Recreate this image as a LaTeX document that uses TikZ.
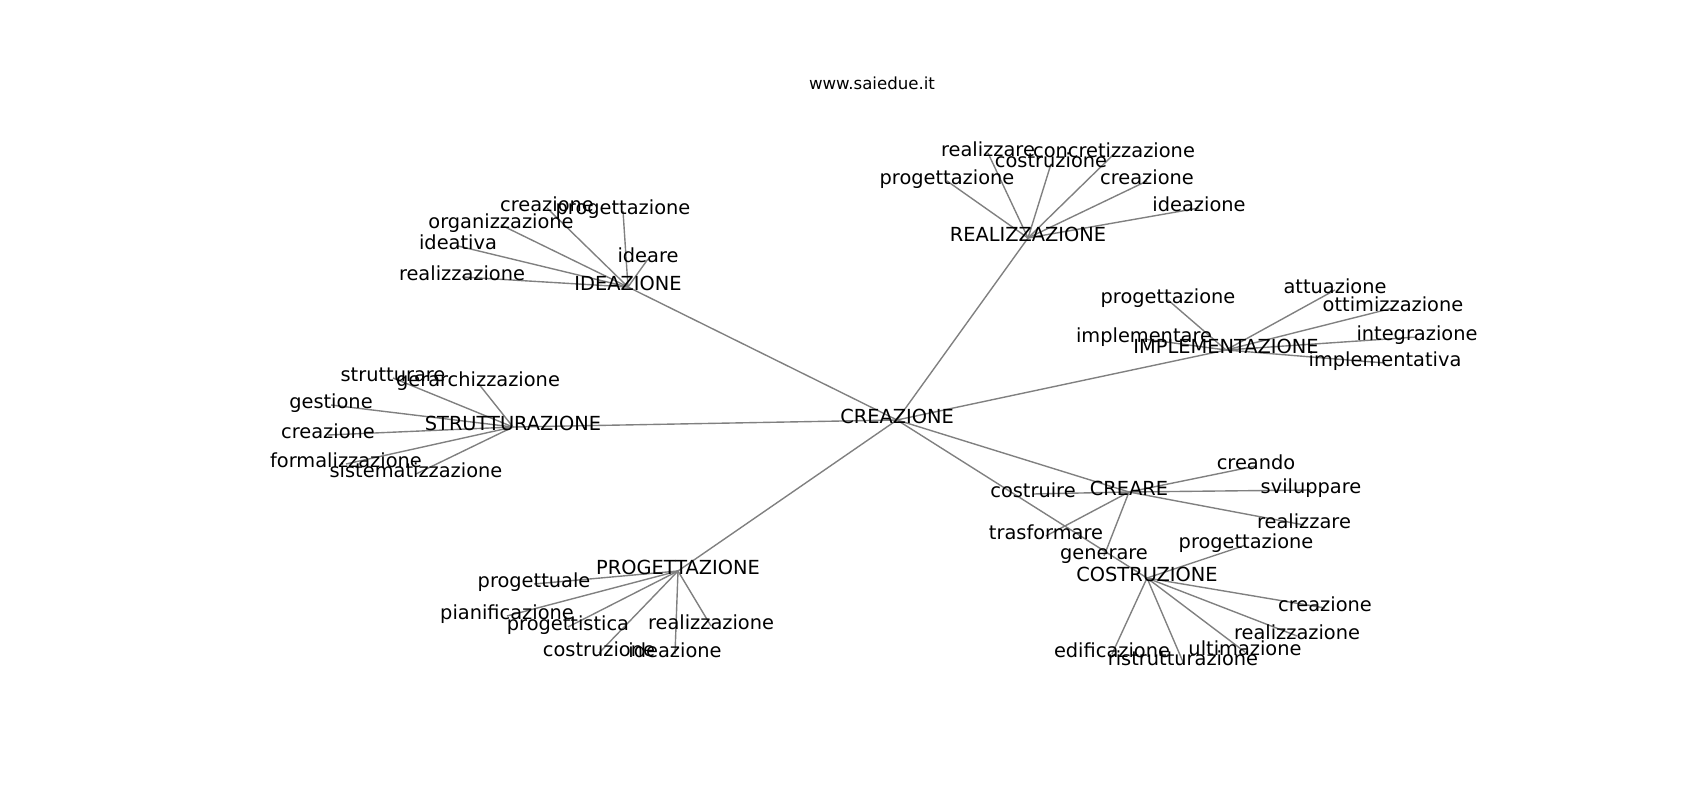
\documentclass[tikz,border=0pt]{standalone}
\usepackage{fontspec}
\setmainfont{DejaVu Sans}
\pgfdeclarelayer{bg}
\pgfdeclarelayer{edges}
\pgfsetlayers{bg,edges,main}
\tikzset{
  lbl/.style={inner sep=0pt, text height=0.76em, text depth=0.21em, font=\fontsize{14}{17}\selectfont, text=black},
  ttl/.style={inner sep=0pt, text height=0.76em, text depth=0.21em, font=\fontsize{12}{14}\selectfont, text=black},
  edge/.style={draw=gray, line width=1pt}
}
\begin{document}
\begin{tikzpicture}[x={(0.01in,0)}, y={(0,-0.01in)}]
\begin{pgfonlayer}{bg}
\fill[white] (0,0) rectangle (1700,800);
\end{pgfonlayer}
\useasboundingbox (0,0) rectangle (1700,800);
\begin{scope}[shift={(1,4)}]
\node[ttl] (title) at (871,82) {www.saiedue.it};
% hubs
\node[lbl] (crz) at (896,416) {CREAZIONE};
\node[lbl] (ide) at (627,283) {IDEAZIONE};
\node[lbl] (rea) at (1027,234) {REALIZZAZIONE};
\node[lbl] (imp) at (1225,346) {IMPLEMENTAZIONE};
\node[lbl] (str) at (512,423) {STRUTTURAZIONE};
\node[lbl] (pro) at (677,567) {PROGETTAZIONE};
\node[lbl] (cre) at (1128,488) {CREARE};
\node[lbl] (cos) at (1146,574) {COSTRUZIONE};
% IDEAZIONE children
\node[lbl] (ide1) at (546,204) {creazione};
\node[lbl] (ide2) at (622,207) {progettazione};
\node[lbl] (ide3) at (500,221) {organizzazione};
\node[lbl] (ide4) at (457,242) {ideativa};
\node[lbl] (ide5) at (461,273) {realizzazione};
\node[lbl] (ide6) at (647,255) {ideare};
% REALIZZAZIONE children
\node[lbl] (rea1) at (987,149) {realizzare};
\node[lbl] (rea2) at (1113,150) {concretizzazione};
\node[lbl] (rea3) at (1050,160) {costruzione};
\node[lbl] (rea4) at (946,177) {progettazione};
\node[lbl] (rea5) at (1146,177) {creazione};
\node[lbl] (rea6) at (1198,204) {ideazione};
% IMPLEMENTAZIONE children
\node[lbl] (imp1) at (1167,296) {progettazione};
\node[lbl] (imp2) at (1334,286) {attuazione};
\node[lbl] (imp3) at (1392,304) {ottimizzazione};
\node[lbl] (imp4) at (1416,333) {integrazione};
\node[lbl] (imp5) at (1384,359) {implementativa};
\node[lbl] (imp6) at (1143,335) {implementare};
% STRUTTURAZIONE children
\node[lbl] (str1) at (392,374) {strutturare};
\node[lbl] (str2) at (477,379) {gerarchizzazione};
\node[lbl] (str3) at (330,401) {gestione};
\node[lbl] (str4) at (327,431) {creazione};
\node[lbl] (str5) at (345,460) {formalizzazione};
\node[lbl] (str6) at (415,470) {sistematizzazione};
% PROGETTAZIONE children
\node[lbl] (pro1) at (533,580) {progettuale};
\node[lbl] (pro2) at (506,612) {pianificazione};
\node[lbl] (pro3) at (567,623) {progettistica};
\node[lbl] (pro4) at (598,649) {costruzione};
\node[lbl] (pro5) at (674,650) {ideazione};
\node[lbl] (pro6) at (710,622) {realizzazione};
% CREARE children
\node[lbl] (cre1) at (1032,490) {costruire};
\node[lbl] (cre2) at (1045,532) {trasformare};
\node[lbl] (cre3) at (1103,552) {generare};
\node[lbl] (cre4) at (1255,462) {creando};
\node[lbl] (cre5) at (1310,486) {sviluppare};
\node[lbl] (cre6) at (1303,521) {realizzare};
% COSTRUZIONE children
\node[lbl] (cos1) at (1245,541) {progettazione};
\node[lbl] (cos2) at (1324,604) {creazione};
\node[lbl] (cos3) at (1296,632) {realizzazione};
\node[lbl] (cos4) at (1244,648) {ultimazione};
\node[lbl] (cos5) at (1182,658) {ristrutturazione};
\node[lbl] (cos6) at (1111,650) {edificazione};
\begin{pgfonlayer}{edges}
\foreach \h in {ide,rea,imp,str,pro,cre,cos}
  \draw[edge] (crz.center) -- (\h.center);
\foreach \h in {ide,rea,imp,str,pro,cre,cos}
  \foreach \i in {1,...,6}
    \draw[edge] (\h.center) -- (\h\i.center);
\end{pgfonlayer}
\end{scope}
\end{tikzpicture}
\end{document}
